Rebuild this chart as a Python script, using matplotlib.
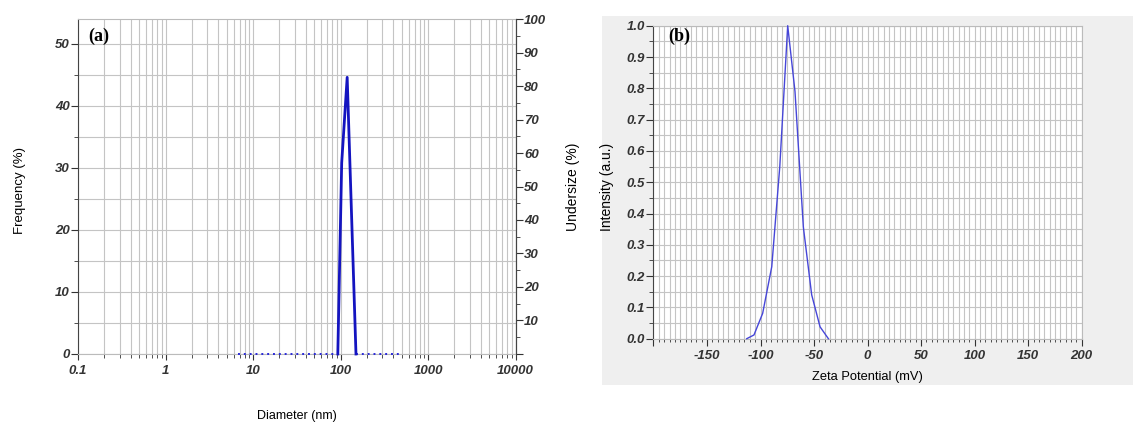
import matplotlib
matplotlib.use("Agg")
import matplotlib.pyplot as plt
from matplotlib.patches import Rectangle
from matplotlib.ticker import MultipleLocator, FixedLocator, NullFormatter, FuncFormatter

# (a) particle size distribution
diam_peak = [93, 103, 119, 150]
freq_peak = [0.0, 30.8, 44.6, 0.0]
diam_low = [6.7, 93]
diam_high = [150, 500]
zero_low = [0.0, 0.0]
zero_high = [0.0, 0.0]

# (b) zeta potential distribution
zeta_mv = [-112.9, -106.1, -98.0, -89.5, -82.0, -74.6, -67.8, -60.0, -52.2, -44.4, -36.6]
intensity = [0.0, 0.012, 0.081, 0.23, 0.55, 1.0, 0.79, 0.357, 0.14, 0.038, 0.0]

plt.rcParams['font.family'] = ['Liberation Sans', 'DejaVu Sans']
tick_font = dict(family='Liberation Sans', weight='bold', style='italic')
grid_col = '#c4c4c4'

fig = plt.figure(figsize=(11.46, 4.38), dpi=100)

# gray backdrop behind panel (b)
fig.patches.append(Rectangle((0.5257, 0.121), 0.4630, 0.8425, transform=fig.transFigure,
                             facecolor='#efefef', edgecolor='none', zorder=-5))

# ---------------- panel (a)
ax = fig.add_axes([0.0681, 0.1918, 0.3818, 0.7648])
ax.set_xscale('log')
ax.set_xlim(0.1, 10000)
ax.set_ylim(0, 54)
ax.plot(diam_low, zero_low, color='#2a2ad8', lw=1.4, ls=(0, (1, 2)), clip_on=False, zorder=3)
ax.plot(diam_high, zero_high, color='#2a2ad8', lw=1.4, ls=(0, (1, 2)), clip_on=False, zorder=3)
ax.plot(diam_peak, freq_peak, color='#1414c0', lw=2.0, clip_on=False, zorder=4)

ax.yaxis.set_major_locator(MultipleLocator(10))
ax.yaxis.set_minor_locator(MultipleLocator(5))
ax.xaxis.set_major_formatter(FuncFormatter(lambda v, p: f"{v:g}"))
ax.xaxis.set_minor_formatter(NullFormatter())
ax.grid(True, which='both', color=grid_col, lw=0.8)
ax.set_axisbelow(True)
ax.tick_params(axis='both', which='both', direction='out', colors='#333333', labelsize=9.5)
ax.tick_params(axis='x', which='major', length=4, pad=4)
ax.tick_params(axis='x', which='minor', length=3)
ax.tick_params(axis='y', which='major', length=5, pad=1)
ax.tick_params(axis='y', which='minor', length=3)
for lab in ax.get_xticklabels() + ax.get_yticklabels():
    lab.set(**tick_font)
for s in ['top', 'bottom']:
    ax.spines[s].set_color('#bbbbbb')
ax.spines['left'].set_color('#444444')
ax.spines['right'].set_color('#444444')

ax2 = ax.twinx()
ax2.set_ylim(0, 100)
ax2.yaxis.set_major_locator(FixedLocator([0, 10, 20, 30, 40, 50, 60, 70, 80, 90, 100]))
ax2.yaxis.set_major_formatter(FuncFormatter(lambda v, p: "" if v == 0 else f"{v:g}"))
ax2.yaxis.set_minor_locator(MultipleLocator(5))
ax2.tick_params(axis='y', which='major', length=5, pad=1, colors='#333333', labelsize=9.5)
ax2.tick_params(axis='y', which='minor', length=3, colors='#333333')
for lab in ax2.get_yticklabels():
    lab.set(**tick_font)
for s in ['top', 'bottom', 'left']:
    ax2.spines[s].set_visible(False)
ax2.spines['right'].set_color('#444444')

ax.text(0.023, 0.975, '(a)', transform=ax.transAxes, ha='left', va='top',
        fontsize=13, fontweight='bold', family='Liberation Serif')
fig.text(0.0175, 0.566, 'Frequency (%)', rotation=90, ha='center', va='center', fontsize=9.5)
fig.text(0.5, 0.573, 'Undersize (%)', rotation=90, ha='center', va='center', fontsize=10)
fig.text(0.259, 0.050, 'Diameter (nm)', ha='center', va='center', fontsize=9)

# ---------------- panel (b)
bx = fig.add_axes([0.5702, 0.2267, 0.3737, 0.7146])
bx.set_facecolor('white')
bx.set_xlim(-200, 200)
bx.set_ylim(0, 1.0)
bx.plot(zeta_mv, intensity, color='#4646d8', lw=1.0, clip_on=False, zorder=3)
bx.xaxis.set_major_locator(MultipleLocator(50))
bx.xaxis.set_minor_locator(MultipleLocator(5))
bx.xaxis.set_major_formatter(FuncFormatter(lambda v, p: "" if v == -200 else f"{v:g}"))
bx.yaxis.set_major_locator(MultipleLocator(0.1))
bx.yaxis.set_minor_locator(MultipleLocator(0.05))
bx.yaxis.set_major_formatter(FuncFormatter(lambda v, p: f"{v:.1f}"))
bx.grid(True, which='both', color=grid_col, lw=0.8)
bx.set_axisbelow(True)
bx.tick_params(axis='both', which='both', direction='out', colors='#333333', labelsize=9.5)
bx.tick_params(axis='x', which='major', length=5, pad=3)
bx.tick_params(axis='x', which='minor', length=2.5)
bx.tick_params(axis='y', which='major', length=5, pad=1)
bx.tick_params(axis='y', which='minor', length=3)
for lab in bx.get_xticklabels() + bx.get_yticklabels():
    lab.set(**tick_font)
for s in ['top', 'bottom', 'right']:
    bx.spines[s].set_color('#bbbbbb')
bx.spines['left'].set_color('#444444')

bx.text(0.034, 0.993, '(b)', transform=bx.transAxes, ha='left', va='top',
        fontsize=13, fontweight='bold', family='Liberation Serif')
fig.text(0.530, 0.573, 'Intensity (a.u.)', rotation=90, ha='center', va='center', fontsize=10)
fig.text(0.7565, 0.139, 'Zeta Potential (mV)', ha='center', va='center', fontsize=9.3)

fig.savefig('out.png', dpi=100)
